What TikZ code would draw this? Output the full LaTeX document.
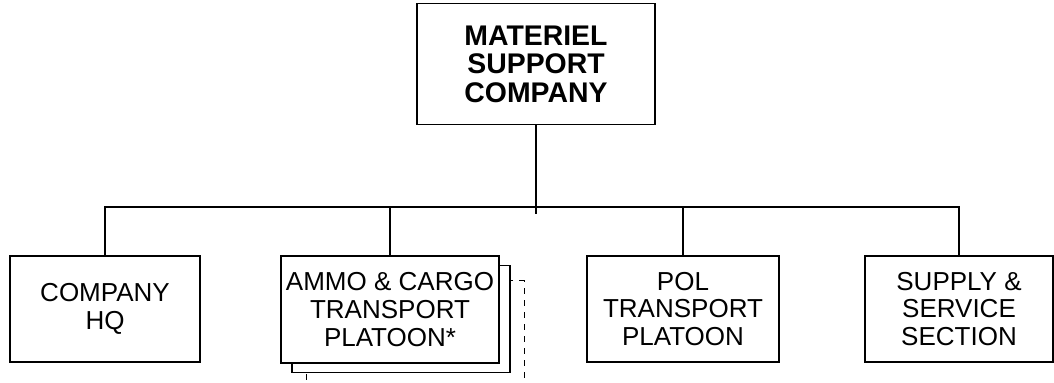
\documentclass[tikz,border=0pt]{standalone}
\usepackage{fontspec}
\setmainfont{Liberation Sans}
\usepackage{tikz}

\tikzset{
	unit/.style={draw, line width=0.8pt, fill=white, align=center, inner sep=1pt,
		font=\fontsize{13}{13.8}\selectfont},
	wire/.style={line width=0.8pt}
}

\begin{document}
\begin{tikzpicture}[x=0.5pt, y=-0.5pt]
	\useasboundingbox (0,0) rectangle (1054,383);
	\clip (0,0) rectangle (1054,383);

	\node[unit, minimum width=119pt, minimum height=60.5pt, font=\fontsize{14.2}{14.2}\selectfont\bfseries] (msc) at (536,64) {MATERIEL\\SUPPORT\\COMPANY};

	\node[unit, minimum width=95pt, minimum height=53pt] (hq) at (105,309) {COMPANY\\HQ};
	\node[unit, dashed, dash pattern=on 3pt off 3pt, line width=0.5pt, minimum width=109pt, minimum height=53.5pt] (ammo3) at (415,334.5) {};
	\node[unit, minimum width=109pt, minimum height=53.5pt] (ammo2) at (401,319) {};
	\node[unit, minimum width=109pt, minimum height=53.5pt] (ammo) at (390,309.5) {AMMO \& CARGO\\TRANSPORT\\PLATOON*};
	\node[unit, minimum width=96pt, minimum height=53pt] (pol) at (683,309) {POL\\TRANSPORT\\PLATOON};
	\node[unit, minimum width=94pt, minimum height=53pt] (sup) at (959,309) {SUPPLY \&\\SERVICE\\SECTION};

	\coordinate (bus) at (536,207);
	\coordinate (tick) at (536,214);

	\draw[wire] (msc.south) -- (tick);
	\draw[wire] (hq.north) |- (bus) -| (sup.north);
	\draw[wire] (ammo.north) -- (ammo.north |- bus);
	\draw[wire] (pol.north) -- (pol.north |- bus);
\end{tikzpicture}
\end{document}
